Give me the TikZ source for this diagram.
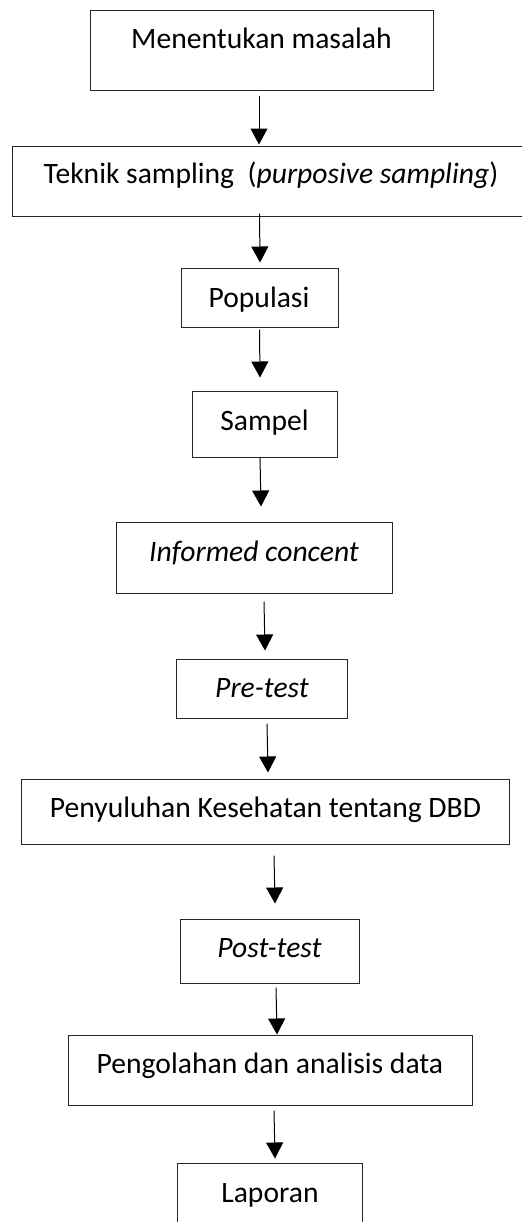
\documentclass[tikz,border=0pt]{standalone}
\usepackage{fontspec}
\setmainfont{Carlito}
\usetikzlibrary{arrows.meta,calc}
\begin{document}
\begin{tikzpicture}[x=0.75pt,y=-0.75pt,
  box/.style={draw=black!85,line width=0.75pt,rectangle,inner sep=0pt},
  txt/.style={anchor=base,inner sep=0pt,font=\fontsize{22.2}{26}\selectfont},
  arr/.style={line width=0.75pt,-{Triangle[width=12.75pt,length=12pt]}}]
\useasboundingbox (0,0) rectangle (522,1222);
\clip (0,0) rectangle (522,1222);
% boxes
\node[box,minimum width=343*0.75pt,minimum height=80*0.75pt] (b1) at (261.5,50) {};
\node[box,minimum width=520*0.75pt,minimum height=70*0.75pt] (b2) at (272,181) {};
\node[box,minimum width=157*0.75pt,minimum height=59*0.75pt] (b3) at (259.5,297.5) {};
\node[box,minimum width=145*0.75pt,minimum height=66*0.75pt] (b4) at (264.5,424) {};
\node[box,minimum width=276*0.75pt,minimum height=71*0.75pt] (b5) at (254,557.5) {};
\node[box,minimum width=171*0.75pt,minimum height=59*0.75pt] (b6) at (261.5,688.5) {};
\node[box,minimum width=488*0.75pt,minimum height=65*0.75pt] (b7) at (265,811.5) {};
\node[box,minimum width=179*0.75pt,minimum height=64*0.75pt] (b8) at (269.5,951) {};
\node[box,minimum width=404*0.75pt,minimum height=70*0.75pt] (b9) at (270,1070) {};
\node[box,minimum width=185*0.75pt,minimum height=77*0.75pt] (b10) at (269.5,1201.5) {};
% texts
\node[txt] (t1) at (261.5,48) {Menentukan masalah};
\node[txt] (t2) at (271,183) {Teknik sampling\ \ (\textit{purposive sampling})};
\node[txt] (t3) at (259,307) {Populasi};
\node[txt] (t4) at (264.5,430) {Sampel};
\node[txt] (t5) at (254,561) {\textit{Informed concent}};
\node[txt] (t6) at (262,697) {\textit{Pre-test}};
\node[txt] (t7) at (265.5,817) {Penyuluhan Kesehatan tentang DBD};
\node[txt] (t8) at (269.5,957) {\textit{Post-test}};
\node[txt] (t9) at (270,1073) {Pengolahan dan analisis data};
\node[txt] (t10) at (270,1202) {Laporan};
% arrows
\draw[arr] ($(b1.south)+(-2.5,5)$) -- ($(b2.north)+(-13,-1)$);
\draw[arr] ($(b2.south)+(-12.5,-3)$) -- ($(b3.north)+(0.5,-5)$);
\draw[arr] ($(b3.south)+(0,2)$) -- ($(b4.north)+(-4.5,-13)$);
\draw[arr] ($(b4.south)+(-4.5,0)$) -- ($(b5.north)+(7,-15)$);
\draw[arr] ($(b5.south)+(10,8)$) -- ($(b6.north)+(3.5,-8)$);
\draw[arr] ($(b6.south)+(5.5,5)$) -- ($(b7.north)+(3,-6)$);
\draw[arr] ($(b7.south)+(9,11)$) -- ($(b8.north)+(5.5,-15)$);
\draw[arr] ($(b8.south)+(6.5,4)$) -- ($(b9.north)+(7,0)$);
\draw[arr] ($(b9.south)+(4,5)$) -- ($(b10.north)+(5.5,-4)$);
\end{tikzpicture}
\end{document}
